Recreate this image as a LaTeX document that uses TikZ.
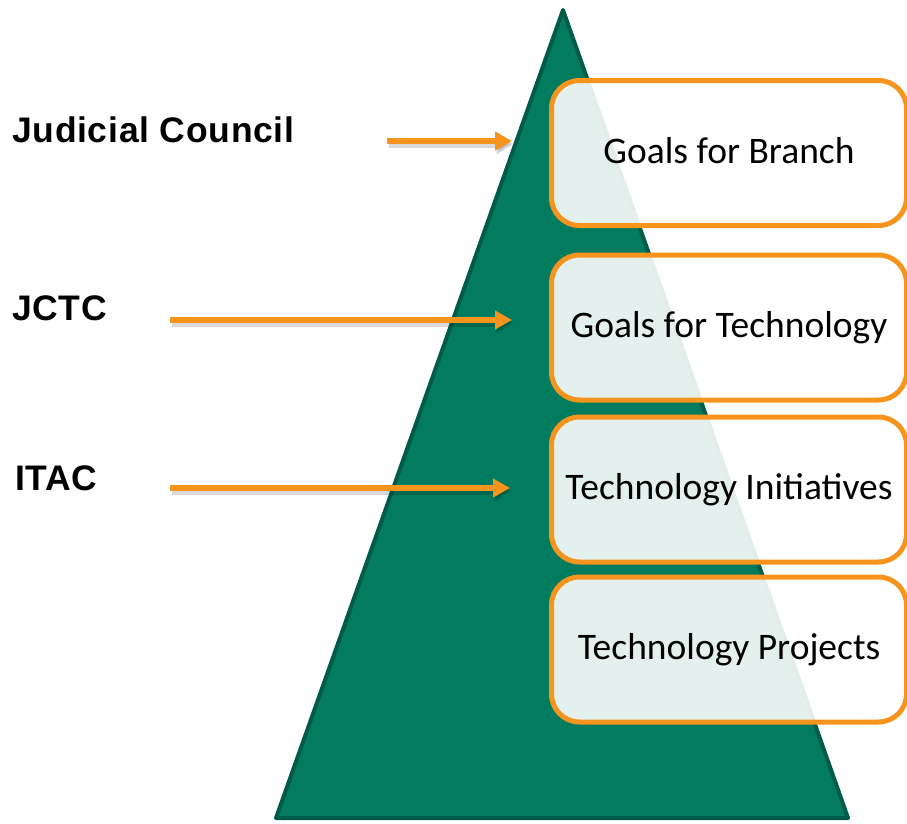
\documentclass[tikz,border=0pt]{standalone}
\usepackage{fontspec}
\newfontfamily\boxfont{Carlito}
\newfontfamily\labelfont{Liberation Sans}[LetterSpace=2]
\usetikzlibrary{arrows.meta}
\definecolor{pyrgreen}{RGB}{3,123,94}
\definecolor{pyredge}{RGB}{0,92,72}
\definecolor{goalorange}{RGB}{247,148,29}
\tikzset{
goalbox/.style={draw=goalorange, line width=5pt, fill=white, fill opacity=0.89, text opacity=1,
  rounded corners=28pt, minimum width=355pt, minimum height=145pt, inner sep=0pt,
  font=\boxfont\fontsize{37.5}{42}\selectfont, text height=27pt, text depth=7pt},
bodylabel/.style={anchor=base west, inner sep=0pt, font=\labelfont\bfseries\fontsize{35.5}{40}\selectfont},
feedarrow/.style={goalorange, line width=6.5pt, -{Triangle[length=17pt,width=18pt]}},
feedshadow/.style={black, opacity=0.15, line width=7pt, -{Triangle[length=17pt,width=20pt]}}
}
\begin{document}
\begin{tikzpicture}[x=1pt,y=1pt,yscale=-1,xscale=1]
\useasboundingbox (0,0) rectangle (907,823);

%Shape: Triangle
\coordinate (apex) at (563,10);
\coordinate (baseR) at (848,818);
\coordinate (baseL) at (276,818);
\draw [pyredge, line width=4pt, line join=round, fill=pyrgreen] (apex) -- (baseR) -- (baseL) -- cycle ;

%Shape: Rounded boxes
\node [goalbox] (branch) at (729,153) {Goals for Branch};
\node [goalbox] (tech) at (729,327.5) {Goals for Technology};
\node [goalbox] (init) at (729,489.5) {Technology Initiatives};
\node [goalbox] (proj) at (729,649.5) {Technology Projects};

% Text Node
\node [bodylabel] (jc) at (12,142.7) {Judicial Council};
% Text Node
\node [bodylabel] (jctc) at (12,320.7) {JCTC};
% Text Node
\node [bodylabel] (itac) at (15,490) {ITAC};

%Straight Lines: arrows
\coordinate (jcS) at (387,141);  \coordinate (jcE) at (512,141);
\coordinate (jctcS) at (170,320); \coordinate (jctcE) at (512,320);
\coordinate (itacS) at (170,488); \coordinate (itacE) at (510,488);
\foreach \s/\e in {jcS/jcE, jctcS/jctcE, itacS/itacE}{
  \draw [feedshadow] ([shift={(1.5,3)}]\s) -- ([shift={(1.5,3)}]\e);
  \draw [feedarrow] (\s) -- (\e);
}

\end{tikzpicture}
\end{document}
